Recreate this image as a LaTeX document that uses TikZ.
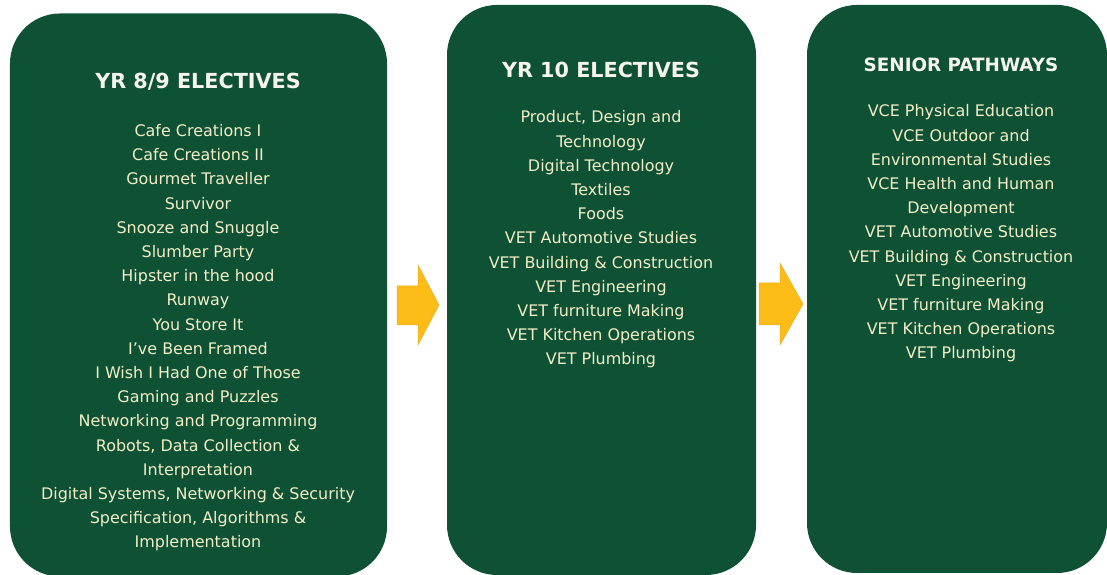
\documentclass[tikz,border=0pt]{standalone}
\usepackage{fontspec}
\setmainfont{DejaVu Sans}
\definecolor{boxgreen}{HTML}{0F5135}
\definecolor{bodytxt}{HTML}{F2EFC6}
\definecolor{titletxt}{HTML}{F7F6EC}
\definecolor{arrowfill}{HTML}{FDBD16}
\definecolor{arrowline}{HTML}{E3AE2A}
\tikzset{
  panel/.style={fill=boxgreen, draw=none, rounded corners=50bp, inner sep=0pt},
  paneltitle/.style={text=titletxt, font=\fontsize{20.8}{24}\selectfont\bfseries, anchor=base, inner sep=0pt},
  panelbody/.style={text=bodytxt, font=\fontsize{16}{24.3}\selectfont, align=center, anchor=base, inner sep=0pt},
  blockarrow/.style={fill=arrowfill, draw=arrowline, line width=0.5bp}
}
\begin{document}
\begin{tikzpicture}[x=1bp,y=1bp]
\useasboundingbox (0,0) rectangle (1107,575);
% panels
\node[panel, minimum width=377bp, minimum height=563bp] (p1) at (198.5,280) {};
\node[panel, minimum width=309bp, minimum height=570bp] (p2) at (601.5,285) {};
\node[panel, minimum width=300bp, minimum height=568bp] (p3) at (957,286) {};
% titles
\node[paneltitle] (t1) at (198,486) {YR 8/9 ELECTIVES};
\node[paneltitle] (t2) at (601,497) {YR 10 ELECTIVES};
\node[paneltitle, font=\fontsize{18.4}{22}\selectfont\bfseries] (t3) at (961,503) {SENIOR PATHWAYS};
% bodies (anchored at the baseline of the last line)
\node[panelbody] (b1) at (198,27) {Cafe Creations I\\Cafe Creations II\\Gourmet Traveller\\Survivor\\Snooze and Snuggle\\Slumber Party\\Hipster in the hood\\Runway\\You Store It\\I've Been Framed\\I Wish I Had One of Those\\Gaming and Puzzles\\Networking and Programming\\Robots, Data Collection \&\\Interpretation\\Digital Systems, Networking \& Security\\Specification, Algorithms \&\\Implementation};
\node[panelbody] (b2) at (601,210) {Product, Design and\\Technology\\Digital Technology\\Textiles\\Foods\\VET Automotive Studies\\VET Building \& Construction\\VET Engineering\\VET furniture Making\\VET Kitchen Operations\\VET Plumbing};
\node[panelbody] (b3) at (961,216) {VCE Physical Education\\VCE Outdoor and\\Environmental Studies\\VCE Health and Human\\Development\\VET Automotive Studies\\VET Building \& Construction\\VET Engineering\\VET furniture Making\\VET Kitchen Operations\\VET Plumbing};
% block arrows
\draw[blockarrow] (397,289) -- (418,289) -- (418,310) -- (439,270) -- (418,230) -- (418,250) -- (397,250) -- cycle;
\draw[blockarrow] (759,292) -- (780,292) -- (780,312) -- (803,271) -- (780,230) -- (780,250) -- (759,250) -- cycle;
\end{tikzpicture}
\end{document}
